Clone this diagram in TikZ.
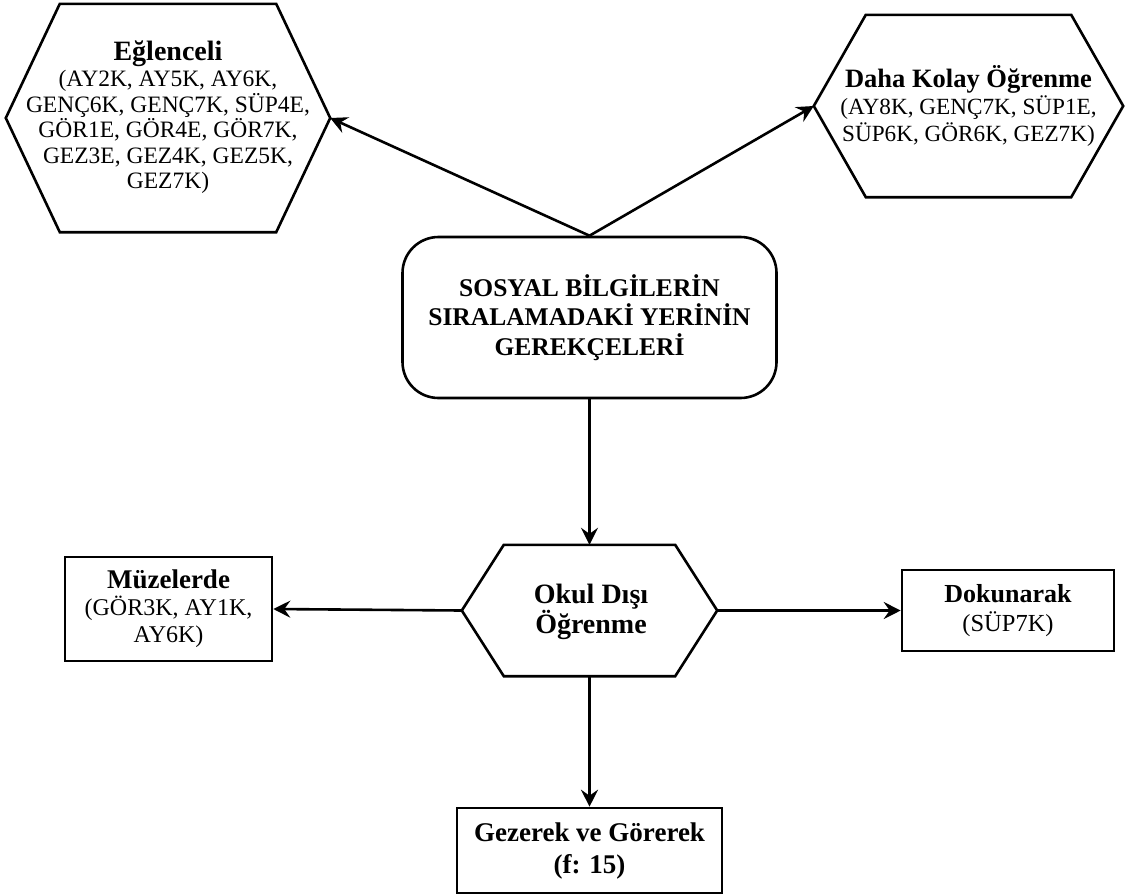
\documentclass[tikz,border=0pt]{standalone}
\usepackage{fontspec}
\setmainfont{Liberation Serif}
\usetikzlibrary{arrows.meta}
\newcommand\drawhexagon[2]{%
  \draw[shapeline] ([xshift=#2]#1.north west) -- ([xshift=-#2]#1.north east) -- (#1.east)
    -- ([xshift=-#2]#1.south east) -- ([xshift=#2]#1.south west) -- (#1.west) -- cycle;}
\begin{document}
\begin{tikzpicture}[x=1pt,y=-1pt,
  shapeline/.style={draw=black, line width=2.6pt, line join=miter},
  box/.style={shapeline, fill=white, align=center, inner sep=0pt, font=\fontsize{24}{27}\selectfont},
  hexnode/.style={align=center, inner sep=0pt, font=\fontsize{23.5}{25.5}\selectfont},
  conn/.style={line width=2.6pt, -{Stealth[length=17pt,width=17pt,inset=6pt]}},
]
\useasboundingbox[fill=white] (0,0) rectangle (1126,895);

% left hexagon
\node[hexnode, minimum width=324pt, minimum height=228pt] (lh) at (168,118) {};
\node[hexnode] (lht) at (168,117) {{\fontsize{28}{30}\selectfont\bfseries Eğlenceli}\\[1pt]
  (AY2K, AY5K, AY6K,\\ GENÇ6K, GENÇ7K, SÜP4E,\\ GÖR1E, GÖR4E, GÖR7K,\\ GEZ3E, GEZ4K, GEZ5K,\\ GEZ7K)};
\drawhexagon{lh}{54pt}

% right hexagon
\node[hexnode, minimum width=309pt, minimum height=182pt] (rh) at (968.5,106) {};
\node[hexnode, font=\fontsize{23.2}{27}\selectfont] (rht) at (968.5,106) {{\fontsize{26.5}{29}\selectfont\bfseries Daha Kolay Öğrenme}\\
  (AY8K, GENÇ7K, SÜP1E,\\ SÜP6K, GÖR6K, GEZ7K)};
\drawhexagon{rh}{52pt}

% centre
\node[box, rounded corners=36pt, minimum width=374pt, minimum height=161pt,
  font=\fontsize{25.5}{29.5}\selectfont\bfseries] (c) at (589.5,317.5)
  {SOSYAL BİLGİLERİN\\ SIRALAMADAKİ YERİNİN\\ GEREKÇELERİ};

% Okul Disi hexagon
\node[hexnode, minimum width=255pt, minimum height=131pt] (ok) at (589.5,610.5) {};
\node[hexnode, font=\fontsize{28}{30}\selectfont\bfseries] (okt) at (591,612) {Okul Dışı\\ Öğrenme};
\drawhexagon{ok}{42pt}

% rectangles
\node[box, minimum width=207pt, minimum height=104pt] (mz) at (168.5,609)
  {{\fontsize{27}{28}\selectfont\bfseries Müzelerde}\\ (GÖR3K, AY1K,\\ AY6K)};
\node[box, minimum width=212pt, minimum height=81pt, font=\fontsize{24.5}{29}\selectfont] (dk) at (1008,610.5)
  {{\fontsize{26}{29}\selectfont\bfseries Dokunarak}\\ (SÜP7K)};
\node[box, minimum width=265pt, minimum height=85pt, font=\fontsize{27}{32}\selectfont\bfseries] (gz) at (589.5,850.5)
  {Gezerek ve Görerek\\ (f: 15)};

% connectors
\draw[conn] (c.north) -- (lh.east);
\draw[conn] (c.north) -- (rh.west);
\draw[conn] (c.south) -- (ok.north);
\draw[conn] (ok.west) -- (mz.east);
\draw[conn] (ok.east) -- (dk.west);
\draw[conn] (ok.south) -- (gz.north);
\end{tikzpicture}
\end{document}
